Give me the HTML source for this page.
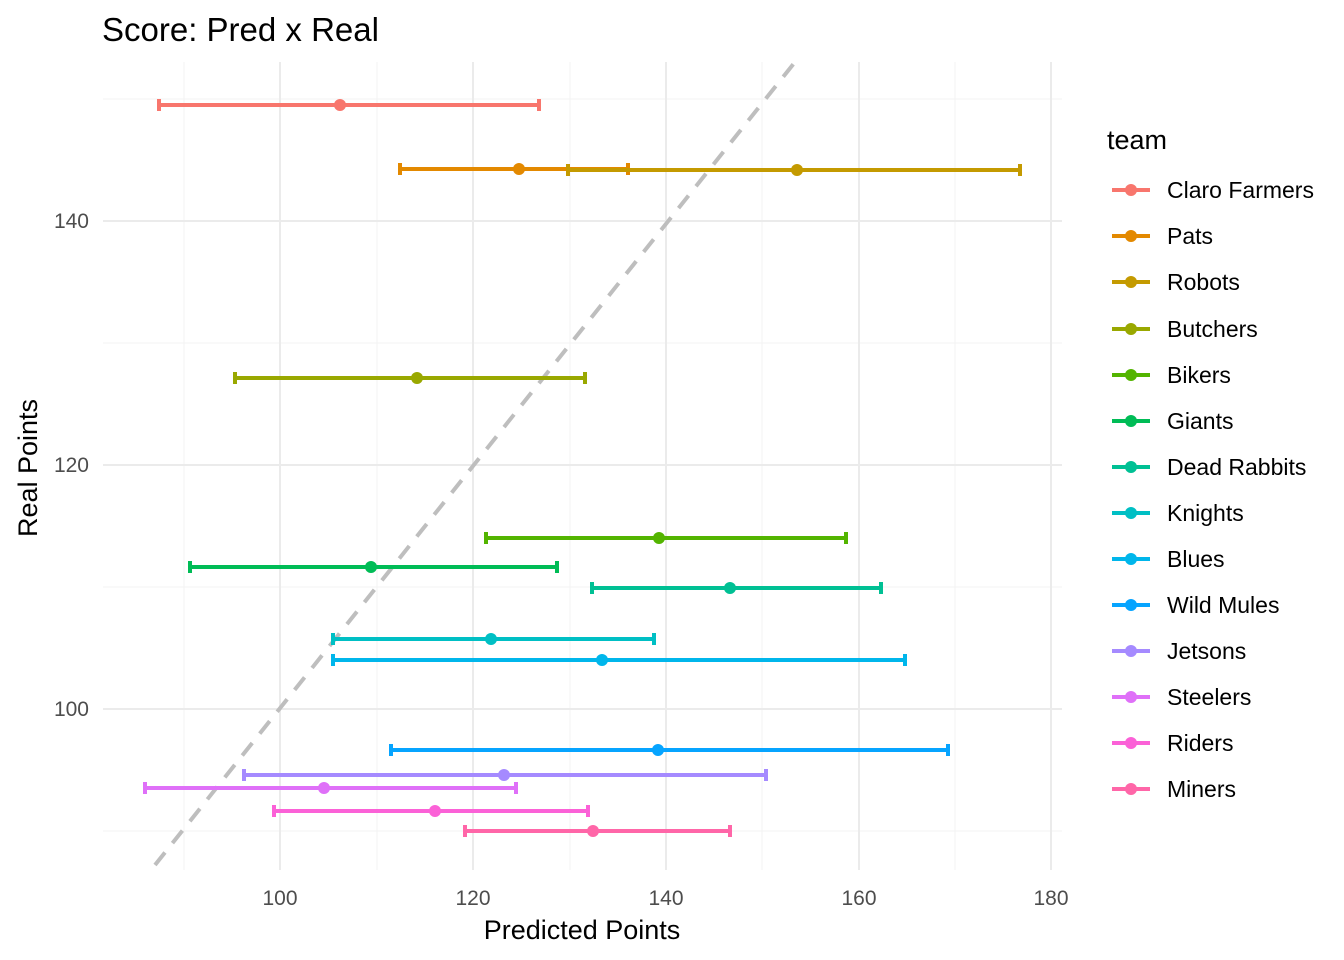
<!DOCTYPE html>
<html><head><style>body{margin:0;background:#fff}svg{display:block}text{font-family:"Liberation Sans",Arial,sans-serif}</style></head><body>
<svg width="1344" height="960" xmlns="http://www.w3.org/2000/svg">
<rect width="1344" height="960" fill="#fff"/>
<g stroke="#f5f5f5" stroke-width="1.2">
<line x1="184" y1="62" x2="184" y2="870"/><line x1="377" y1="62" x2="377" y2="870"/><line x1="570" y1="62" x2="570" y2="870"/><line x1="762" y1="62" x2="762" y2="870"/><line x1="955" y1="62" x2="955" y2="870"/>
<line x1="103" y1="99" x2="1062" y2="99"/><line x1="103" y1="343" x2="1062" y2="343"/><line x1="103" y1="587" x2="1062" y2="587"/><line x1="103" y1="831" x2="1062" y2="831"/>
</g>
<g stroke="#ebebeb" stroke-width="2">
<line x1="280" y1="62" x2="280" y2="870"/><line x1="473" y1="62" x2="473" y2="870"/><line x1="666" y1="62" x2="666" y2="870"/><line x1="859" y1="62" x2="859" y2="870"/><line x1="1051" y1="62" x2="1051" y2="870"/>
<line x1="103" y1="221" x2="1062" y2="221"/><line x1="103" y1="465" x2="1062" y2="465"/><line x1="103" y1="709" x2="1062" y2="709"/>
</g>
<line x1="155" y1="865" x2="795" y2="62" stroke="#bebebe" stroke-width="4" stroke-dasharray="16,12"/>
<g stroke-width="4" fill="none">
<g stroke="#F8766D"><path d="M159 105H539M159 99V111M539 99V111"/></g>
<g stroke="#E38900"><path d="M400 169H628M400 163V175M628 163V175"/></g>
<g stroke="#C49A00"><path d="M568 170H1020M568 164V176M1020 164V176"/></g>
<g stroke="#99A800"><path d="M235 378H585M235 372V384M585 372V384"/></g>
<g stroke="#53B400"><path d="M486 538H846M486 532V544M846 532V544"/></g>
<g stroke="#00BC56"><path d="M190 567H557M190 561V573M557 561V573"/></g>
<g stroke="#00C094"><path d="M592 588H881M592 582V594M881 582V594"/></g>
<g stroke="#00BFC4"><path d="M333 639H654M333 633V645M654 633V645"/></g>
<g stroke="#00B6EB"><path d="M333 660H905M333 654V666M905 654V666"/></g>
<g stroke="#06A4FF"><path d="M391 750H948M391 744V756M948 744V756"/></g>
<g stroke="#A58AFF"><path d="M244 775H766M244 769V781M766 769V781"/></g>
<g stroke="#DF70F8"><path d="M145 788H516M145 782V794M516 782V794"/></g>
<g stroke="#FB61D7"><path d="M274 811H588M274 805V817M588 805V817"/></g>
<g stroke="#FF66A8"><path d="M465 831H730M465 825V837M730 825V837"/></g>
</g>
<g>
<circle cx="340" cy="105" r="6" fill="#F8766D"/><circle cx="519" cy="169" r="6" fill="#E38900"/><circle cx="797" cy="170" r="6" fill="#C49A00"/><circle cx="417" cy="378" r="6" fill="#99A800"/><circle cx="659" cy="538" r="6" fill="#53B400"/><circle cx="371" cy="567" r="6" fill="#00BC56"/><circle cx="730" cy="588" r="6" fill="#00C094"/><circle cx="491" cy="639" r="6" fill="#00BFC4"/><circle cx="602" cy="660" r="6" fill="#00B6EB"/><circle cx="658" cy="750" r="6" fill="#06A4FF"/><circle cx="504" cy="775" r="6" fill="#A58AFF"/><circle cx="324" cy="788" r="6" fill="#DF70F8"/><circle cx="435" cy="811" r="6" fill="#FB61D7"/><circle cx="593" cy="831" r="6" fill="#FF66A8"/>
</g>
<g font-size="21" fill="#4d4d4d" text-anchor="middle">
<text x="280" y="905">100</text><text x="473" y="905">120</text><text x="666" y="905">140</text><text x="859" y="905">160</text><text x="1051" y="905">180</text>
</g>
<g font-size="21" fill="#4d4d4d" text-anchor="end">
<text x="89" y="228">140</text><text x="89" y="472">120</text><text x="89" y="716">100</text>
</g>
<text x="582" y="939" font-size="27" text-anchor="middle" fill="#000">Predicted Points</text>
<text transform="translate(37,468) rotate(-90)" font-size="27" text-anchor="middle" fill="#000">Real Points</text>
<text x="102" y="41" font-size="33" fill="#000">Score: Pred x Real</text>
<text x="1107" y="149" font-size="27" fill="#000">team</text>
<g font-size="23" fill="#000" stroke-width="4">
<g transform="translate(0,190)"><line x1="1112" x2="1150" stroke="#F8766D"/><circle cx="1131" r="6" fill="#F8766D"/><text x="1167" y="8">Claro Farmers</text></g>
<g transform="translate(0,236)"><line x1="1112" x2="1150" stroke="#E38900"/><circle cx="1131" r="6" fill="#E38900"/><text x="1167" y="8">Pats</text></g>
<g transform="translate(0,282)"><line x1="1112" x2="1150" stroke="#C49A00"/><circle cx="1131" r="6" fill="#C49A00"/><text x="1167" y="8">Robots</text></g>
<g transform="translate(0,329)"><line x1="1112" x2="1150" stroke="#99A800"/><circle cx="1131" r="6" fill="#99A800"/><text x="1167" y="8">Butchers</text></g>
<g transform="translate(0,375)"><line x1="1112" x2="1150" stroke="#53B400"/><circle cx="1131" r="6" fill="#53B400"/><text x="1167" y="8">Bikers</text></g>
<g transform="translate(0,421)"><line x1="1112" x2="1150" stroke="#00BC56"/><circle cx="1131" r="6" fill="#00BC56"/><text x="1167" y="8">Giants</text></g>
<g transform="translate(0,467)"><line x1="1112" x2="1150" stroke="#00C094"/><circle cx="1131" r="6" fill="#00C094"/><text x="1167" y="8">Dead Rabbits</text></g>
<g transform="translate(0,513)"><line x1="1112" x2="1150" stroke="#00BFC4"/><circle cx="1131" r="6" fill="#00BFC4"/><text x="1167" y="8">Knights</text></g>
<g transform="translate(0,559)"><line x1="1112" x2="1150" stroke="#00B6EB"/><circle cx="1131" r="6" fill="#00B6EB"/><text x="1167" y="8">Blues</text></g>
<g transform="translate(0,605)"><line x1="1112" x2="1150" stroke="#06A4FF"/><circle cx="1131" r="6" fill="#06A4FF"/><text x="1167" y="8">Wild Mules</text></g>
<g transform="translate(0,651)"><line x1="1112" x2="1150" stroke="#A58AFF"/><circle cx="1131" r="6" fill="#A58AFF"/><text x="1167" y="8">Jetsons</text></g>
<g transform="translate(0,697)"><line x1="1112" x2="1150" stroke="#DF70F8"/><circle cx="1131" r="6" fill="#DF70F8"/><text x="1167" y="8">Steelers</text></g>
<g transform="translate(0,743)"><line x1="1112" x2="1150" stroke="#FB61D7"/><circle cx="1131" r="6" fill="#FB61D7"/><text x="1167" y="8">Riders</text></g>
<g transform="translate(0,789)"><line x1="1112" x2="1150" stroke="#FF66A8"/><circle cx="1131" r="6" fill="#FF66A8"/><text x="1167" y="8">Miners</text></g>
</g>
</svg>
</body></html>
